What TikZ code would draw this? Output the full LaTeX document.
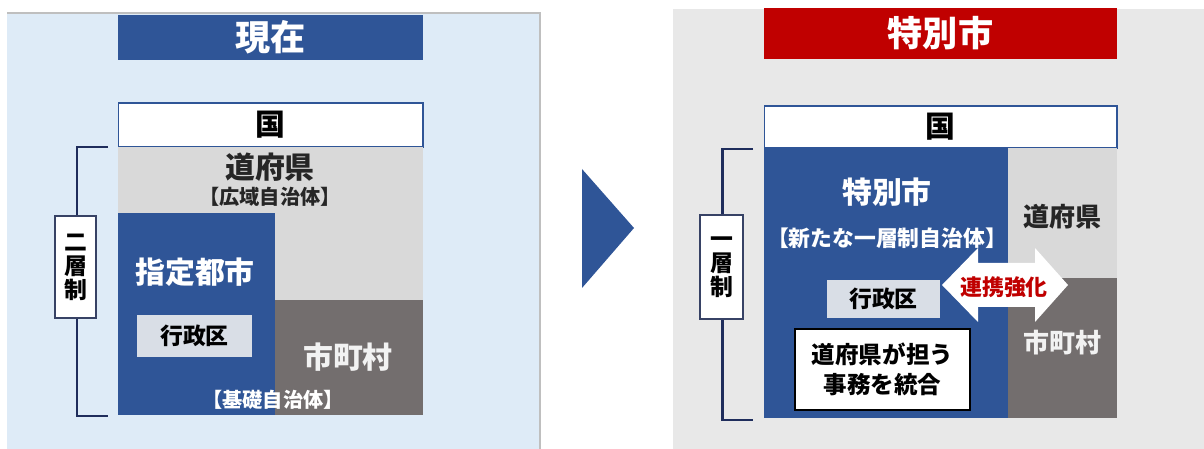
\documentclass[tikz,border=0pt]{standalone}
\usepackage{fontspec}
\setmainfont{Noto Sans CJK JP}
\usepackage{tikz}
\usetikzlibrary{positioning}
\definecolor{mainblue}{HTML}{2F5597}
\definecolor{kengrey}{HTML}{D9D9D9}
\definecolor{munigrey}{HTML}{736E6E}
\definecolor{wardgrey}{HTML}{D9DEE6}
\definecolor{titlered}{HTML}{C00000}
\definecolor{nowbg}{HTML}{DEEBF7}
\definecolor{newbg}{HTML}{E8E8E8}
\definecolor{navy}{HTML}{1F2D5C}
\newcommand{\fsz}[2]{\fontsize{#1}{#2}\selectfont\bfseries}
\tikzset{head/.style={text=white, font=\fsz{20}{22}, inner sep=0pt},
  kuni/.style={fill=white, draw=mainblue, line width=0.6pt, font=\fsz{17}{19}, inner sep=0pt},
  ward/.style={fill=wardgrey, font=\fsz{13}{15}, inner sep=0pt},
  tier/.style={fill=white, draw=navy!75!gray, line width=1.6pt, align=center, inner sep=0pt, font=\fsz{13}{13.6}},
  bracket/.style={draw=navy, line width=1.7pt},
  big/.style={font=\fsz{17}{19}},
  mid/.style={font=\fsz{14.8}{16}},
  small/.style={font=\fsz{11.5}{13}}}

\begin{document}
\begin{tikzpicture}[x=0.02cm, y=-0.02cm]
\useasboundingbox (0,0) rectangle (1204,449);
% current system
\fill[nowbg] (7,13) rectangle (540,449);
\draw[gray!50, line width=0.8pt] (7,13) -- (540,13) -- (540,449);
\node (t1) at (270.5,37.5) [head, fill=mainblue, minimum width=6.1cm, minimum height=0.9cm] {現在};
\node (k1) at (270.5,125) [kuni, minimum width=6.1cm, minimum height=0.88cm] {国};
\fill[kengrey] (118,147) rectangle (423,300);
\fill[mainblue] (118,213) rectangle (275,415);
\fill[munigrey] (275,300) rectangle (423,415);
\node (d1) at (270,167) [big, text=black!85] {道府県};
\node (d1b) at (270,197) [small, text=black!85] {【広域自治体】};
\node (s1) at (195,272) [big, text=white] {指定都市};
\node (w1) at (194.5,336) [ward, minimum width=2.3cm, minimum height=0.84cm] {行政区};
\node (m1) at (348,357) [big, text=white!95!black] {市町村};
\node (b1) at (273,400) [small, text=white] {【基礎自治体】};
\coordinate (bt1) at (108,147);
\coordinate (bb1) at (108,416);
\draw[bracket] (bt1) -- ++(-31,0) |- (bb1);
\node (l1) at (75.5,267) [tier, minimum width=0.82cm, minimum height=2.04cm] {二\\層\\制};
% arrow between panels
\fill[mainblue] (582,169) -- (634,228) -- (582,288) -- cycle;
% special city
\fill[newbg] (673,9) rectangle (1204,449);
\node (t2) at (940.5,33.5) [head, fill=titlered, minimum width=7.06cm, minimum height=1.02cm] {特別市};
\node (k2) at (940.5,127) [kuni, minimum width=7.06cm, minimum height=0.84cm] {国};
\fill[mainblue] (764,148) rectangle (1008,418);
\fill[kengrey] (1008,148) rectangle (1117,278);
\fill[munigrey] (1008,278) rectangle (1117,418);
\node (s2) at (887,192) [big, text=white] {特別市};
\node (s2b) at (887,238) [font=\fsz{12.4}{14}, text=white] {【新たな一層制自治体】};
\node (d2) at (1062,217) [mid, text=black!85] {道府県};
\node (m2) at (1062,343) [mid, text=white!95!black] {市町村};
\node (w2) at (883.5,299) [ward, minimum width=2.26cm, minimum height=0.76cm] {行政区};
\node (j2) at (882.5,369.5) [fill=white, draw=black, line width=1.6pt, minimum width=3.5cm, minimum height=1.62cm, align=center, inner sep=0pt, font=\fsz{13.4}{17}] {道府県が担う\\事務を統合};
\fill[white] (942,285) -- (978,248) -- (978,263) -- (1035,263) -- (1035,248) -- (1068,285)
  -- (1035,322) -- (1035,307) -- (978,307) -- (978,322) -- cycle;
\node (r2) at (1004,287) [font=\fsz{12.5}{14}, text=titlered] {連携強化};
\coordinate (bt2) at (753,149);
\coordinate (bb2) at (753,420);
\draw[bracket] (bt2) -- ++(-31,0) |- (bb2);
\node (l2) at (721.5,267) [tier, minimum width=0.86cm, minimum height=2.08cm] {一\\層\\制};
\end{tikzpicture}
\end{document}
